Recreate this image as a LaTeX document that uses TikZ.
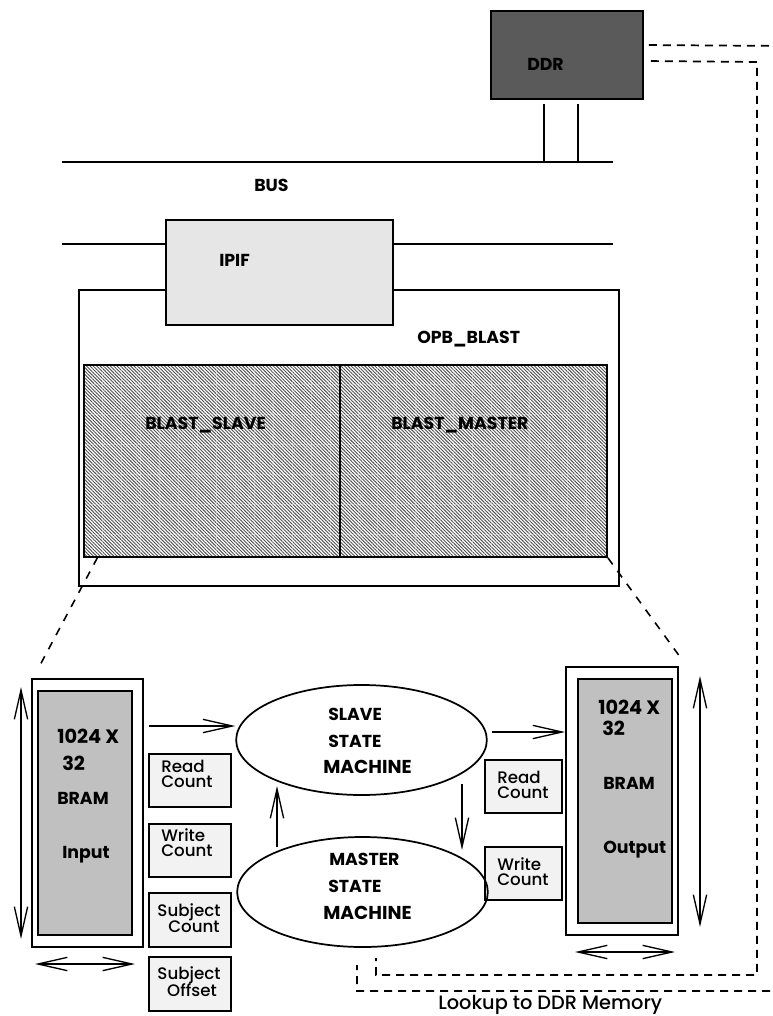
\documentclass[tikz,border=0pt]{standalone}
\usepackage{fontspec}
\setmainfont{Poppins}
\newfontfamily\pmed{Poppins Medium}
\usetikzlibrary{arrows.meta,shapes.geometric,patterns.meta,fit,calc}
\definecolor{ddrgray}{HTML}{5A5A5A}
\definecolor{ipifgray}{HTML}{E6E6E6}
\definecolor{bramgray}{HTML}{C0C0C0}
\definecolor{cntgray}{HTML}{F2F2F2}
\definecolor{hatchgray}{HTML}{505050}
\begin{document}
\begin{tikzpicture}[x=0.75pt,y=-0.75pt,
  box/.style={draw, line width=1.4pt, inner sep=0pt},
  cnt/.style={box, fill=cntgray},
  hatch/.style={box, pattern={Lines[angle=-45,distance=1.8pt,line width=0.7pt]}, pattern color=hatchgray},
  bus/.style={line width=1.4pt},
  lab/.style={font=\fontsize{13}{13}\selectfont\bfseries, anchor=base west, inner sep=0pt},
  labw/.style={lab, font=\fontsize{14.5}{14}\selectfont\bfseries},
  labm/.style={lab, font=\fontsize{14}{14}\selectfont\bfseries},
  sm/.style={font=\pmed\fontsize{12.5}{12}\selectfont, anchor=base west, inner sep=0pt},
  sm2/.style={font=\pmed\fontsize{12.5}{12}\selectfont, anchor=base, inner sep=0pt},
  tip/.tip={Straight Barb[length=22pt,width=10pt]},
  arr/.style={-tip, line width=1pt},
  darr/.style={tip-tip, line width=1pt},
  ddash/.style={line width=1.3pt, dash pattern=on 6pt off 4.5pt},
  zdash/.style={line width=1.2pt, dash pattern=on 6pt off 6pt}]
\useasboundingbox (0,0) rectangle (773,1016);

% bus lines
\coordinate (bl1) at (62,162);
\coordinate (br1) at (613,162);
\coordinate (bl2) at (62,244);
\coordinate (br2) at (613,244);
\draw[bus] (bl1) -- (br1);
\draw[bus] (bl2) -- (br2);

% DDR
\node[box, fill=ddrgray, fit={(491,11) (643,99)}] (ddr) {};
\node[lab] (ddrt) at (527,71) {DDR};
\coordinate (dv1) at (544,104);
\coordinate (dv2) at (578,104);
\draw[bus] (dv1) -- (dv1 |- br1);
\draw[bus] (dv2) -- (dv2 |- br1);
\node[lab] (bust) at (254,192) {BUS};

% OPB box and IPIF
\node[box, fit={(79,290) (619,586)}] (opb) {};
\node[box, fill=ipifgray, fit={(166,220) (393,325)}] (ipif) {};
\node[lab] (ipift) at (219,267) {IPIF};
\node[lab] (opbt) at (417,343) {OPB\_BLAST};

% hatched blocks
\node[hatch, fit={(84,365) (340,557)}] (bslave) {};
\node[hatch, fit={(340,365) (607,557)}] (bmaster) {};
\begin{scope}
  \clip (86,367) rectangle (605,555);
  \foreach \gx in {102,121,140,159,178,197,216,235,254,273,292,311,330,358,377,396,415,434,453,472,491,510,529,548,567,586}
    \draw[white, opacity=0.3, line width=0.4pt] (\gx,365) -- (\gx,557);
  \foreach \gy in {384,414,444,474,504,534}
    \draw[white, opacity=0.3, line width=0.4pt] (84,\gy) -- (607,\gy);
\end{scope}
\draw[line width=1.4pt] (bslave.north east) -- (bslave.south east);
\node[lab] (bslavet) at (145,429) {BLAST\_SLAVE};
\node[lab] (bmastert) at (391,429) {BLAST\_MASTER};

% zoom lines
\coordinate (zl) at (39,667);
\coordinate (zr) at (683,661);
\draw[zdash] ($(bslave.south west)+(14,0)$) -- (zl);
\draw[zdash] (bmaster.south east) -- (zr);

% input BRAM
\node[box, fit={(32,679) (143,947)}] (inbox) {};
\node[box, fill=bramgray, fit={(38,691) (132,935)}] (inbram) {};
\node[labw] (in1) at (57,743) {1024 X};
\node[labw] (in2) at (62,770) {32};
\node[lab] (in3) at (57,804) {BRAM};
\node[lab] (in4) at (62,858) {Input};
\coordinate (iv1) at (21,687);
\coordinate (iv2) at (21,939);
\draw[darr] (iv1) -- (iv2);
\coordinate (ih1) at (35,964);
\coordinate (ih2) at (135,964);
\draw[darr] (ih1) -- (ih2);

% output BRAM
\node[box, fit={(566,667) (678,935)}] (outbox) {};
\node[box, fill=bramgray, fit={(578,679) (672,923)}] (outbram) {};
\node[labw] (out1) at (598,714) {1024 X};
\node[labw] (out2) at (602,735) {32};
\node[lab] (out3) at (603,789) {BRAM};
\node[lab] (out4) at (603,853) {Output};
\coordinate (ov1) at (700,676);
\coordinate (ov2) at (700,927);
\draw[darr] (ov1) -- (ov2);
\coordinate (oh1) at (575,952);
\coordinate (oh2) at (675,952);
\draw[darr] (oh1) -- (oh2);

% counter boxes left
\node[cnt, fit={(149,754) (231,807)}] (rc1) {};
\node[sm] (rc1a) at (161,772) {Read};
\node[sm] (rc1b) at (161,787) {Count};
\node[cnt, fit={(149,824) (231,877)}] (wc1) {};
\node[sm] (wc1a) at (161,841) {Write};
\node[sm] (wc1b) at (161,856) {Count};
\node[cnt, fit={(149,893) (231,947)}] (sc1) {};
\node[sm2] (sc1a) at (189,916) {Subject};
\node[sm2] (sc1b) at (194,932) {Count};
\node[cnt, fit={(149,957) (231,1011)}] (so1) {};
\node[sm2] (so1a) at (189,979) {Subject};
\node[sm2] (so1b) at (192,996) {Offset};

% counter boxes right
\node[cnt, fit={(485,760) (562,813)}] (rc2) {};
\node[sm] (rc2a) at (497,783) {Read};
\node[sm] (rc2b) at (497,798) {Count};
\node[cnt, fit={(485,847) (562,900)}] (wc2) {};
\node[sm] (wc2a) at (497,870) {Write};
\node[sm] (wc2b) at (497,885) {Count};

% state machines
\node[draw, ellipse, line width=1.3pt, inner sep=0pt, minimum width=188pt, minimum height=82.5pt] (slave) at (361.5,740) {};
\node[lab] (sl1) at (328,720) {SLAVE};
\node[lab] (sl2) at (328,747) {STATE};
\node[labm] (sl3) at (323,773) {MACHINE};
\node[draw, ellipse, line width=1.3pt, inner sep=0pt, minimum width=188pt, minimum height=82.5pt] (master) at (362.5,892) {};
\node[lab] (ms1) at (329,865) {MASTER};
\node[lab] (ms2) at (328,892) {STATE};
\node[labm] (ms3) at (323,919) {MACHINE};

% arrows
\coordinate (a1) at (149,726);
\draw[arr] (a1) -- (a1 -| slave.west);
\coordinate (a2) at (492,732);
\draw[arr] (a2) -- (a2 -| outbox.west);
\coordinate (a3s) at (277,847);
\coordinate (a3e) at (277,786);
\draw[arr] (a3s) -- (a3e);
\coordinate (a4s) at (462,784);
\coordinate (a4e) at (462,850);
\draw[arr] (a4s) -- (a4e);

% DDR lookup dashed paths
\begin{scope}
  \clip (0,0) rectangle (773,1016);
  \coordinate (o1) at (790,46);
  \coordinate (o2) at (790,991);
  \coordinate (o3) at (357,991);
  \coordinate (o4) at (357,965);
  \draw[ddash] ($(ddr.north east)+(5,35)$) -- (o1) -- (o2) -- (o3) -- (o4);
  \coordinate (i1) at (757,62);
  \coordinate (i2) at (757,975);
  \coordinate (i3) at (376,975);
  \coordinate (i4) at (376,958);
  \draw[ddash] ($(ddr.north east)+(7,51)$) -- (i1) -- (i2) -- (i3) -- (i4);
\end{scope}
\node[sm, font=\pmed\fontsize{14.5}{14}\selectfont] (lookup) at (438,1009) {Lookup to DDR Memory};
\end{tikzpicture}
\end{document}
